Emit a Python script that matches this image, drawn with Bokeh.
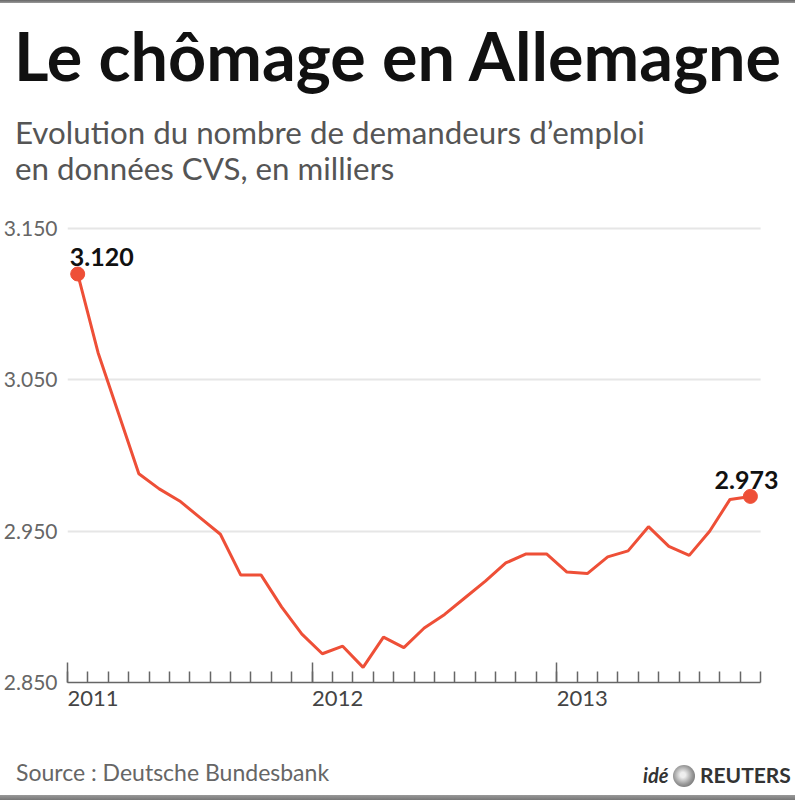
from bokeh.plotting import figure
from bokeh.layouts import column
from bokeh.models import Label, FixedTicker, Range1d, BoxAnnotation, Div
from bokeh.embed import file_html
from bokeh.resources import INLINE

# ---- data (thousands of job seekers, seasonally adjusted) ----
month_index = list(range(34))  # Jan 2011 .. Oct 2013
values = [3120, 3068, 3028, 2988, 2978, 2970, 2959, 2948, 2921, 2921,
          2900, 2882, 2869, 2874, 2860, 2880, 2873, 2886, 2895, 2906,
          2917, 2929, 2935, 2935, 2923, 2922, 2933, 2937, 2953, 2940,
          2934, 2950, 2971, 2973]
year_ticks = [0, 12, 24]
year_labels = ["2011", "2012", "2013"]
y_ticks = [2850, 2950, 3050, 3150]
y_labels = ["2.850", "2.950", "3.050", "3.150"]
first_label = "3.120"
last_label = "2.973"
title = "Le chômage en Allemagne"
subtitle1 = "Evolution du nombre de demandeurs d\u2019emploi"
subtitle2 = "en données CVS, en milliers"
source = "Source : Deutsche Bundesbank"
brand1 = "idé"
brand2 = "REUTERS"

W = 795
HEAD_H, MAIN_H, FOOT_H = 200, 540, 60
FONT = "Lato"
RED = "#EE4F37"
ASC = 0.987  # Lato ascent (em) for baseline placement in HTML


def txt(s, left, baseline, size, color, weight=400, style="normal"):
    top = baseline - ASC * size
    return (f'<div style="position:absolute;left:{left}px;top:{top:.1f}px;'
            f'font-family:{FONT};font-size:{size}px;font-weight:{weight};font-style:{style};'
            f'line-height:1.2;color:{color};white-space:nowrap;">{s}</div>')


# ---------------- header ----------------
head_html = (
    f'<div style="position:relative;width:{W}px;height:{HEAD_H}px;overflow:hidden;">'
    '<div style="position:absolute;left:0;top:0;width:795px;height:3px;'
    'background:linear-gradient(#666,#999);"></div>'
    + txt(title, 14, 82, 66.5, "#111111", weight=700)
    + txt(subtitle1, 15, 145, 31.3, "#555555")
    + txt(subtitle2, 15, 181, 31.3, "#555555")
    + '</div>'
)
head = Div(text=head_html, width=W, height=HEAD_H, margin=(0, 0, 0, 0))

# ---------------- main chart ----------------
FL, FB = 65, 482            # frame left, frame bottom (within this figure)
PX_PER_MONTH = 695 / 34
PX_PER_UNIT = 1.513
X0, X1 = 0, (W - FL) / PX_PER_MONTH
Y0 = 2850
Y1 = Y0 + FB / PX_PER_UNIT

p = figure(width=W, height=MAIN_H, x_range=Range1d(X0, X1), y_range=Range1d(Y0, Y1),
           output_backend="svg", toolbar_location=None,
           min_border_left=FL, min_border_right=0, min_border_top=0,
           min_border_bottom=MAIN_H - FB, margin=(0, 0, 0, 0))
p.outline_line_color = None

p.xgrid.grid_line_color = None
p.ygrid.ticker = FixedTicker(ticks=y_ticks[1:])
p.ygrid.grid_line_color = "#E6E6E6"
p.ygrid.grid_line_width = 2
# keep gridlines from running past the last month
p.add_layout(BoxAnnotation(left=month_index[-1] + 1, right=X1, bottom=Y0, top=Y1,
                           fill_color="white", fill_alpha=1, line_color=None, level="underlay"))

xs = [m + 0.5 for m in month_index]
p.line(xs, values, line_color=RED, line_width=3)
p.scatter([xs[0], xs[-1]], [values[0], values[-1]], size=14,
          fill_color=RED, line_color=RED)

# x axis
xa = p.xaxis[0]
xa.bounds = (0, month_index[-1] + 1)
xa.ticker = FixedTicker(ticks=year_ticks, minor_ticks=list(range(0, month_index[-1] + 2)))
xa.major_label_overrides = {t: l for t, l in zip(year_ticks, year_labels)}
xa.major_tick_in = 20
xa.major_tick_out = 0
xa.minor_tick_in = 11
xa.minor_tick_out = 0
for attr in ("axis_line", "major_tick_line", "minor_tick_line"):
    setattr(xa, attr + "_color", "#666666")
    setattr(xa, attr + "_width", 1.5)
xa.major_label_orientation = -1e-6   # tiny negative angle -> labels left-aligned at tick
xa.major_label_text_font = FONT
xa.major_label_text_font_size = "22px"
xa.major_label_text_color = "#444444"
xa.major_label_standoff = 16

# y axis
ya = p.yaxis[0]
ya.ticker = FixedTicker(ticks=y_ticks)
ya.major_label_overrides = {t: l for t, l in zip(y_ticks, y_labels)}
ya.axis_line_color = None
ya.major_tick_line_color = None
ya.minor_tick_line_color = None
ya.major_tick_in = 0
ya.major_tick_out = 0
ya.major_label_text_font = FONT
ya.major_label_text_font_size = "21px"
ya.major_label_text_color = "#666666"
ya.major_label_standoff = 10

# end-point labels
p.add_layout(Label(x=xs[0], y=values[0], text=first_label, x_offset=-8, y_offset=17,
                   text_font=FONT, text_font_style="bold", text_font_size="25px",
                   text_color="#111111", text_baseline="alphabetic"))
p.add_layout(Label(x=xs[-1], y=values[-1], text=last_label, x_offset=28, y_offset=16,
                   text_align="right",
                   text_font=FONT, text_font_style="bold", text_font_size="25px",
                   text_color="#111111", text_baseline="alphabetic"))

# ---------------- footer ----------------
fb = 42  # baseline within footer
foot_html = (
    f'<div style="position:relative;width:{W}px;height:{FOOT_H}px;overflow:hidden;">'
    + txt(source, 16, fb, 23, "#666666")
    + txt(brand1, 643, fb + 1, 20, "#333333", weight=700, style="italic")
    + '<div style="position:absolute;left:673px;top:25px;width:22px;height:22px;border-radius:50%;'
      'background:radial-gradient(circle at 45% 45%, #eeeeee 15%, #999999 55%, #555555 100%);"></div>'
    + txt(brand2, 700, fb + 1, 21, "#333333", weight=700)
    + f'<div style="position:absolute;left:0;top:{FOOT_H - 5}px;width:795px;height:5px;'
      'background:linear-gradient(#999,#777);"></div>'
    + '</div>'
)
foot = Div(text=foot_html, width=W, height=FOOT_H, margin=(0, 0, 0, 0))

layout = column(head, p, foot, spacing=0)
open("out.html", "w").write(file_html(layout, INLINE))
